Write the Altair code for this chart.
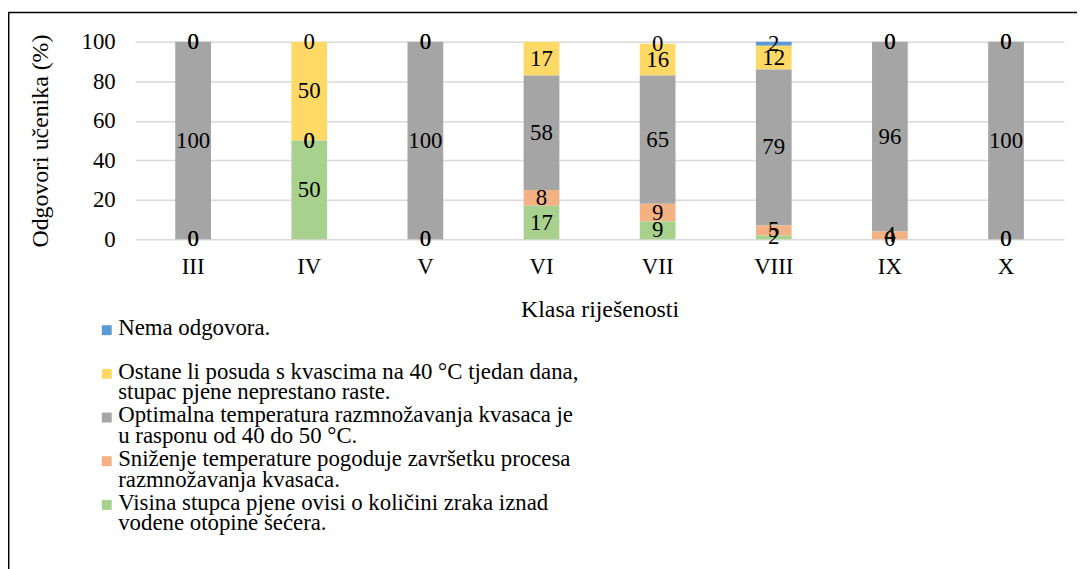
import altair as alt
import pandas as pd

classes = ["III", "IV", "V", "VI", "VII", "VIII", "IX", "X"]

series = [
    "Nema odgovora.| ",
    "Ostane li posuda s kvascima na 40 °C tjedan dana,|stupac pjene neprestano raste.",
    "Optimalna temperatura razmnožavanja kvasaca je|u rasponu od 40 do 50 °C.",
    "Sniženje temperature pogoduje završetku procesa|razmnožavanja kvasaca.",
    "Visina stupca pjene ovisi o količini zraka iznad|vodene otopine šećera.",
]
colors = ["#5B9BD5", "#FFD966", "#A5A5A5", "#F4B183", "#A9D18E"]
stack_rank = [4, 3, 2, 1, 0]

nema = [0, 0, 0, None, 0, 2, 0, 0]
ostane = [0, 50, 0, 17, 16, 12, 0, 0]
optimalna = [100, 0, 100, 58, 65, 79, 96, 100]
snizenje = [0, 0, 0, 8, 9, 5, 4, 0]
visina = [0, 50, 0, 17, 9, 2, 0, 0]

values = [nema, ostane, optimalna, snizenje, visina]
rows = []
for s, rank, vals in zip(series, stack_rank, values):
    for c, v in zip(classes, vals):
        rows.append({"cls": c, "series": s, "rank": rank, "value": v})
df = pd.DataFrame(rows)

FONT = "Liberation Serif"

base = alt.Chart(df).transform_filter("isValid(datum.value)").transform_stack(
    stack="value", groupby=["cls"], sort=[alt.SortField("rank", "ascending")], as_=["y0", "y1"]
).transform_calculate(mid="(datum.y0 + datum.y1) / 2")

x_axis = alt.Axis(
    title="Klasa riješenosti", labelAngle=0, ticks=False, domain=False, grid=False,
    labelFont=FONT, labelFontSize=23, labelColor="#000", labelPadding=16,
    titleFont=FONT, titleFontSize=24, titleFontWeight="normal", titleColor="#000",
    titlePadding=20,
)
y_axis = alt.Axis(
    values=[0, 20, 40, 60, 80, 100], title="Odgovori učenika (%)", labelOverlap=False,
    ticks=False, domain=False, grid=True, gridColor="#D9D9D9", gridWidth=1.5,
    labelFont=FONT, labelFontSize=23, labelColor="#000", labelPadding=20,
    titleFont=FONT, titleFontSize=24, titleFontWeight="normal", titleColor="#000",
    titlePadding=29,
)
x_scale = alt.Scale(paddingInner=0, paddingOuter=0)
y_scale = alt.Scale(domain=[0, 100])

bars = base.mark_bar(width=36).encode(
    x=alt.X("cls:N", sort=classes, scale=x_scale, axis=x_axis),
    y=alt.Y("y0:Q", scale=y_scale, axis=y_axis),
    y2="y1:Q",
    color=alt.Color(
        "series:N",
        scale=alt.Scale(domain=series, range=colors),
        legend=alt.Legend(
            title=None, orient="none", legendX=-40, legendY=277, direction="vertical",
            labelExpr="split(datum.label, '|')", labelFont=FONT, labelFontSize=23,
            labelColor="#000", labelLimit=900,
            symbolType="M-1,-0.6H1V1.4H-1Z", symbolSize=100,
            symbolStrokeWidth=0, labelOffset=0, rowPadding=0, labelBaseline="middle",
        ),
    ),
)

labels = base.mark_text(font=FONT, fontSize=23, color="#000", baseline="middle").encode(
    x=alt.X("cls:N", sort=classes, scale=x_scale, axis=x_axis),
    y=alt.Y("mid:Q", scale=y_scale, axis=y_axis),
    text=alt.Text("value:Q", format="d"),
)

frame_df = pd.DataFrame({"k": [0]})
frame_top = alt.Chart(frame_df).mark_rule(color="#000", strokeWidth=1.5).encode(
    x=alt.value(-128), x2=alt.value(960), y=alt.value(-29.5)
)
frame_left = alt.Chart(frame_df).mark_rule(color="#000", strokeWidth=1.5).encode(
    x=alt.value(-127.3), y=alt.value(-30), y2=alt.value(540)
)

chart = alt.layer(frame_top, frame_left, bars, labels).properties(
    width=936, height=199,
    autosize=alt.AutoSizeParams(type="none"),
    padding={"left": 128, "top": 32, "right": 13, "bottom": 330},
).configure(
    font=FONT, style={"guide-label": {"lineHeight": 20.5}}
).configure_view(stroke=None)

chart.save("out.html", embed_options={"renderer": "svg", "actions": False})
